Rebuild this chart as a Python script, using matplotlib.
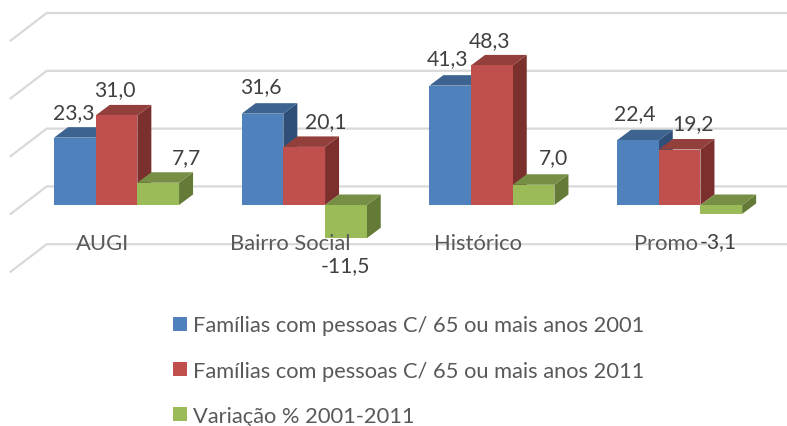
import matplotlib
matplotlib.use("Agg")
import matplotlib.pyplot as plt

plt.rcParams['font.family'] = ['Lato', 'DejaVu Sans']

categories = ["AUGI", "Bairro Social", "Histórico", "Promo"]
series_names = ["Famílias com pessoas C/ 65 ou mais anos 2001",
                "Famílias com pessoas C/ 65 ou mais anos 2011",
                "Variação % 2001-2011"]
fam_2001 = [23.3, 31.6, 41.3, 22.4]
fam_2011 = [31.0, 20.1, 48.3, 19.2]
variacao = [7.7, -11.5, 7.0, -3.1]
grid_values = [-20, 0, 20, 40, 60]

W, H = 787, 427
GROUP_PX = 187.7
UNIT_PX = 2.89
X0_PX = 116.5
Y0_PX = 206.0
BAR_W = 41.7 / GROUP_PX
DX = 14 / GROUP_PX
DY = 10.5 / UNIT_PX

faces = ["#4f81bd", "#c0504d", "#9bbb59"]
tops = ["#3d6391", "#93403d", "#778f45"]
sides = ["#2f4f78", "#7c302e", "#647a37"]

fig = plt.figure(figsize=(W / 100, H / 100), dpi=100)
ax = fig.add_axes([0, 0, 1, 1])
ax.set_xlim(-X0_PX / GROUP_PX, (W - X0_PX) / GROUP_PX)
ax.set_ylim(-(H - Y0_PX) / UNIT_PX, Y0_PX / UNIT_PX)
ax.axis("off")

# floor/back wall grid lines
wall_back_x = (46.7 - X0_PX) / GROUP_PX
wall_front_x = (10.7 - X0_PX) / GROUP_PX
back_shift = (205.3 - 186.7) / UNIT_PX
wall_dy = 27.5 / UNIT_PX
for g in grid_values:
    yb = g + back_shift
    ax.plot([wall_front_x, wall_back_x, ax.get_xlim()[1]],
            [yb - wall_dy, yb, yb], color="#d9d9d9", lw=1.6, zorder=1,
            solid_joinstyle="miter")

# 3D-looking bars
all_series = [fam_2001, fam_2011, variacao]
for i in range(len(categories)):
    for s, vals in enumerate(all_series):
        v = vals[i]
        left = i + (s - 1.5) * BAR_W
        right = left + BAR_W
        top = max(v, 0)
        z = 3 + i * 3 + s
        ax.fill([right, right + DX, right + DX, right],
                [top, top + DY, min(v, 0) + DY, min(v, 0)],
                color=sides[s], lw=0, zorder=z)
        ax.fill([left, left + DX, right + DX, right],
                [top, top + DY, top + DY, top],
                color=tops[s], lw=0, zorder=z)
        ax.bar(left, v, width=BAR_W, align="edge", color=faces[s], lw=0,
               zorder=z + 0.5)

# data labels: offsets from the top-centre of each bar, in pixels
label_offsets = [
    [(-1, 26), (-2, 26), (28, 26)],
    [(-2, 28), (22, 26), (-1, -27)],
    [(-3, 28), (-2, 25), (20, 28)],
    [(-3, 27), (13, 26), (-3, -27)],
]
FS = 15.2
for i in range(len(categories)):
    for s, vals in enumerate(all_series):
        v = vals[i]
        cx = i + (s - 1) * BAR_W
        dx_px, dy_px = label_offsets[i][s]
        ax.annotate(f"{v:.1f}".replace(".", ","), (cx, v),
                    xytext=(dx_px * 0.72, dy_px * 0.72), textcoords="offset points",
                    ha="center", va="center", fontsize=FS, color="#404040",
                    zorder=40)

# category labels
cat_y = (Y0_PX - 244) / UNIT_PX
for i, c in enumerate(categories):
    ax.text(i - 14 / GROUP_PX, cat_y, c, ha="center", va="center",
            fontsize=15.8, color="#595959", zorder=30)

handles = [plt.Rectangle((0, 0), 1, 1, color=c, lw=0) for c in faces]
leg = ax.legend(handles, series_names, loc="lower left",
                bbox_to_anchor=(171 / W, -2 / H), frameon=False, fontsize=15.75,
                labelcolor="#595959", handlelength=0.64, handleheight=0.64,
                handletextpad=0.25, labelspacing=1.15, borderpad=0.1,
                borderaxespad=0)
fig.savefig("out.png", dpi=100)
